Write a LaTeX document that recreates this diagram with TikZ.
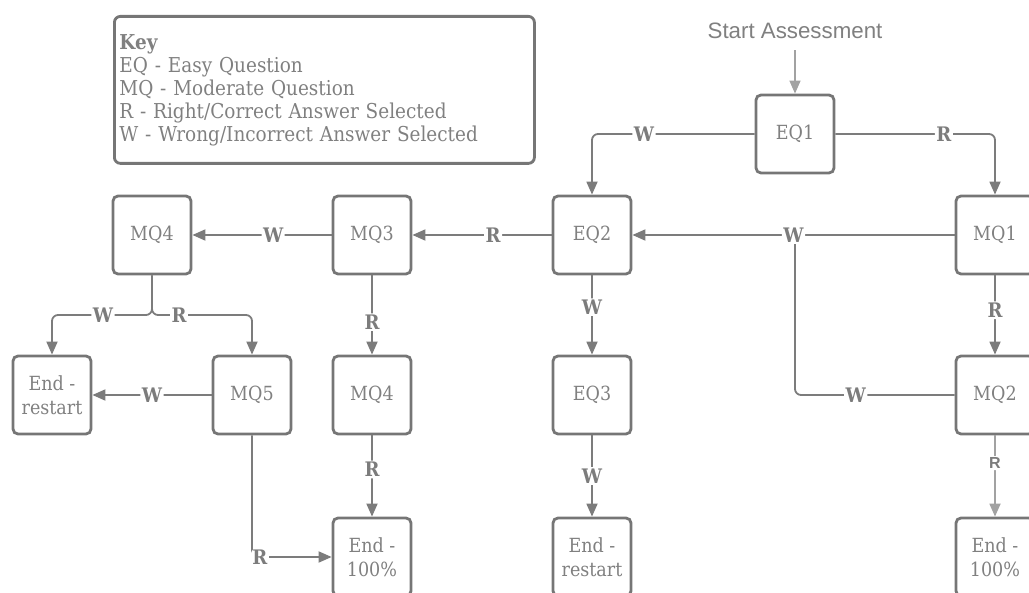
\documentclass[tikz,border=0pt]{standalone}
\usepackage{fontspec}
\setmainfont{DejaVu Serif}[FakeStretch=0.9]
\newfontfamily\labelsans{Liberation Sans}
\usetikzlibrary{arrows.meta}
\definecolor{boxgray}{HTML}{767676}
\definecolor{textgray}{HTML}{808080}
\definecolor{linegray}{HTML}{7C7C7C}
\definecolor{softgray}{HTML}{A2A2A2}

\begin{document}
\begin{tikzpicture}[x=1pt,y=-1pt,
  qbox/.style={draw=boxgray, line width=2.8pt, rounded corners=5pt,
    minimum width=78pt, minimum height=78pt, inner sep=0pt,
    text=textgray, font=\fontsize{19.5}{23.5}\selectfont, align=center},
  link/.style={draw=linegray, line width=1.8pt, rounded corners=6pt,
    -{Triangle[length=13pt,width=11pt]}},
  plain/.style={draw=linegray, line width=1.8pt, rounded corners=6pt},
  tag/.style={fill=white, text=linegray, inner sep=1.5pt,
    font=\bfseries\fontsize{20}{20}\selectfont},
  sanstag/.style={fill=white, text=linegray, inner sep=1.5pt,
    font=\labelsans\bfseries\fontsize{16}{16}\selectfont}
]
\useasboundingbox (0,0) rectangle (1029,593);
\clip (0,0) rectangle (1029,593);

% legend
\node[draw=boxgray, line width=2.8pt, rounded corners=6pt, anchor=north west,
  text width=410pt, minimum height=147pt, inner sep=5pt, align=left,
  text=textgray, font=\fontsize{20.5}{23}\selectfont] (key) at (113,15)
  {\textbf{Key}\\EQ - Easy Question\\MQ - Moderate Question\\
   R - Right/Correct Answer Selected\\W - Wrong/Incorrect Answer Selected};

% question and end boxes
\node[qbox] (eq1)  at (795,134) {EQ1};
\node[qbox] (eq2)  at (592,235) {EQ2};
\node[qbox] (mq1)  at (995,235) {MQ1};
\node[qbox] (mq3)  at (372,235) {MQ3};
\node[qbox] (mq4a) at (152,235) {MQ4};
\node[qbox] (endL) at (52,395)  {End -\\restart};
\node[qbox] (mq5)  at (252,395) {MQ5};
\node[qbox] (mq4b) at (372,395) {MQ4};
\node[qbox] (eq3)  at (592,395) {EQ3};
\node[qbox] (mq2)  at (995,395) {MQ2};
\node[qbox] (endA) at (372,557) {End -\\100\%};
\node[qbox] (endB) at (592,557) {End -\\restart};
\node[qbox] (endC) at (995,557) {End -\\100\%};

\node[text=textgray, font=\labelsans\fontsize{22.3}{22.3}\selectfont] (start) at (795,31) {Start Assessment};
\coordinate (split) at (152,315);

% connectors
\draw[link, draw=softgray, line width=1.5pt] ([yshift=-8pt]start.south) -- (eq1.north);
\draw[link] (eq1.west) -| node[tag, pos=0.34] {W} (eq2.north);
\draw[link] (eq1.east) -| node[tag, pos=0.34] {R} (mq1.north);
\draw[plain] (mq2.west) -| node[tag, pos=0.31] {W} (mq1.west -| eq1.center);
\draw[link] (mq1.west) -- node[tag] {W} (eq2.east);
\draw[link] (mq1.south) -- node[tag, pos=0.44] {R} (mq2.north);
\draw[link, draw=softgray] (mq2.south) -- node[sanstag, pos=0.34] {R} (endC.north);
\draw[link] (eq2.west) -- node[tag, pos=0.42] {R} (mq3.east);
\draw[link] (eq2.south) -- node[tag, pos=0.4] {W} (eq3.north);
\draw[link] (eq3.south) -- node[tag, pos=0.5] {W} (endB.north);
\draw[link] (mq3.west) -- node[tag, pos=0.42] {W} (mq4a.east);
\draw[link] (mq3.south) -- node[tag, pos=0.59] {R} (mq4b.north);
\draw[link] (mq4b.south) -- node[tag, pos=0.42] {R} (endA.north);
\draw[link] (mq4a.south) -- (split) -| node[tag, pos=0.245] {W} (endL.north);
\draw[link] (mq4a.south) -- (split) -| node[tag, pos=0.135] {R} (mq5.north);
\draw[link] (mq5.west) -- node[tag] {W} (endL.east);
\draw[link] (mq5.south) |- node[tag, pos=0.55] {R} (endA.west);
\end{tikzpicture}
\end{document}
